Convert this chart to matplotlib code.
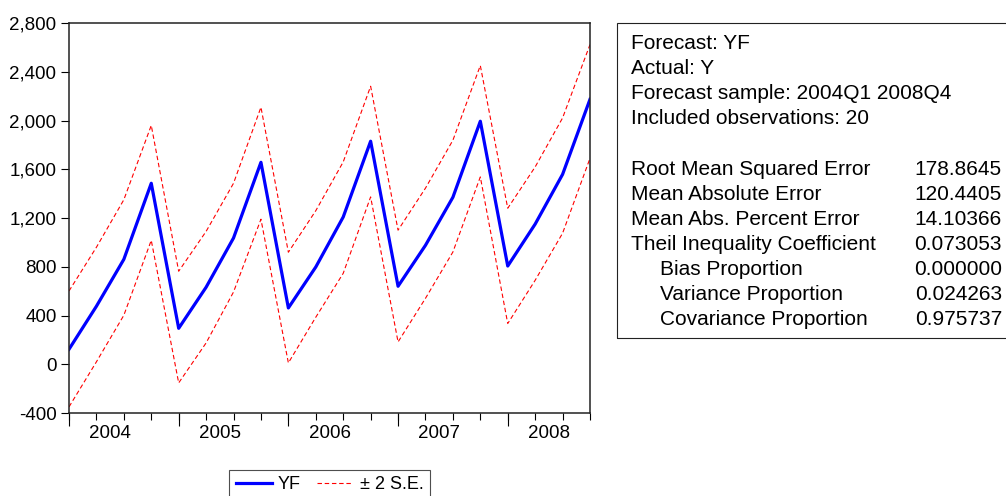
import numpy as np
import matplotlib.pyplot as plt
from matplotlib.patches import Rectangle
from matplotlib.ticker import FuncFormatter

plt.rcParams['font.family'] = ['Liberation Sans', 'DejaVu Sans']

# quarterly forecast sample 2004Q1 - 2008Q4
quarters = [f'{y}Q{q}' for y in range(2004, 2009) for q in range(1, 5)]
years = ['2004', '2005', '2006', '2007', '2008']

yf = [123, 476, 861, 1485, 295, 632, 1036, 1657, 462, 798,
      1208, 1830, 640, 976, 1370, 1994, 806, 1150, 1558, 2174]
upper = [601, 960, 1350, 1960, 763, 1090, 1485, 2109, 919, 1260,
         1660, 2281, 1100, 1445, 1838, 2451, 1280, 1619, 2021, 2623]
lower = [-350, 20, 402, 1017, -153, 175, 593, 1190, 11, 386,
         746, 1373, 183, 541, 921, 1537, 334, 689, 1075, 1690]

stat_header = ['Forecast: YF', 'Actual: Y', 'Forecast sample: 2004Q1 2008Q4',
               'Included observations: 20']
stat_labels = ['Root Mean Squared Error', 'Mean Absolute Error',
               'Mean Abs. Percent Error', 'Theil Inequality Coefficient',
               'Bias Proportion', 'Variance Proportion',
               'Covariance Proportion']
stat_indent = [0, 0, 0, 0, 1, 1, 1]
stat_values = ['178.8645', '120.4405', '14.10366', '0.073053',
               '0.000000', '0.024263', '0.975737']

W, H = 1006, 496
fig = plt.figure(figsize=(W / 100, H / 100), dpi=100)
ax = fig.add_axes([69 / W, 1 - 413 / H, (590 - 69) / W, (413 - 23) / H])

x = np.arange(len(quarters))
ax.plot(x, yf, color='#0000ff', lw=2.3, label='YF')
ax.plot(x, upper, color='#ff0000', lw=0.8, dashes=(4, 2.5), label='± 2 S.E.')
ax.plot(x, lower, color='#ff0000', lw=0.8, dashes=(4, 2.5))

ax.set_xlim(0, len(quarters) - 1)
ax.set_ylim(-400, 2800)
ax.set_yticks(np.arange(-400, 2801, 400))
ax.yaxis.set_major_formatter(FuncFormatter(lambda v, p: f'{int(v):,}'))

# year labels centred on each year, short ticks every quarter
ax.set_xticks(np.arange(len(years)) * 4 + 1.5, years)
ax.set_xticks(x, minor=True)
ax.tick_params(axis='x', which='major', length=0, pad=9, labelsize=13.5)
ax.tick_params(axis='x', which='minor', length=5, width=0.8)
ax.tick_params(axis='y', length=6, width=0.8, labelsize=13.5, pad=3)

# longer ticks at the start of every year
sec = ax.secondary_xaxis('bottom')
sec.set_xticks(np.arange(len(years)) * 4)
sec.tick_params(length=9, width=0.8, labelbottom=False)
sec.spines['bottom'].set_visible(False)

for s in ax.spines.values():
    s.set_linewidth(1.1)
    s.set_color('#222222')

fig.legend(loc='upper center', bbox_to_anchor=(329.5 / W, 1 - 461 / H),
           ncol=2, fontsize=13, frameon=True, fancybox=False,
           edgecolor='#222222', handlelength=2.0, columnspacing=0.9,
           handletextpad=0.35, borderpad=0.35)
fig.legends[0].get_frame().set_linewidth(0.8)

# statistics box
fig.patches.append(Rectangle((617 / W, 1 - 338 / H), (W + 10 - 617) / W,
                             (338 - 23) / H, transform=fig.transFigure,
                             fill=False, edgecolor='#222222', lw=0.8))
y0, dy = 43.3, 25.15
for i, t in enumerate(stat_header):
    fig.text(631 / W, 1 - (y0 + i * dy) / H, t, fontsize=15, va='center')
for i, (t, ind, v) in enumerate(zip(stat_labels, stat_indent, stat_values)):
    yy = 1 - (y0 + (i + 5) * dy) / H
    fig.text((631 + 29 * ind) / W, yy, t, fontsize=15, va='center')
    fig.text(1002 / W, yy, v, fontsize=15, va='center', ha='right')

fig.savefig('out.png', dpi=100)
